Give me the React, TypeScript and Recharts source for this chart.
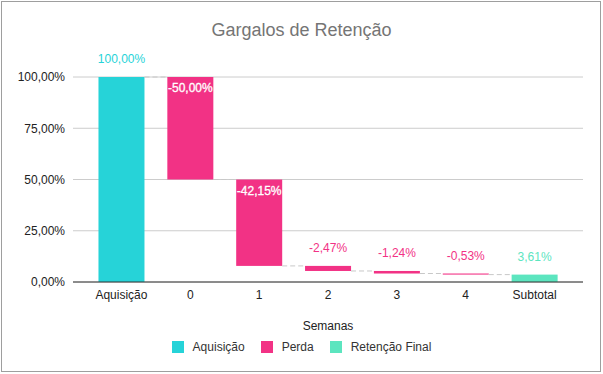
import React from 'react';
import { BarChart, Bar, XAxis, YAxis, CartesianGrid, Cell, LabelList } from 'recharts';

const CATEGORIES = ['Aquisição', '0', '1', '2', '3', '4', 'Subtotal'];
const VALUES = [100, -50.0, -42.15, -2.47, -1.24, -0.53, 3.61];
const KINDS = ['acq', 'loss', 'loss', 'loss', 'loss', 'loss', 'final'];
const Y_TICKS = [0, 25, 50, 75, 100];

const COLORS: Record<string, string> = {
  acq: '#26d3d8',
  loss: '#f23285',
  final: '#5ce5bf',
};

const LEGEND_ITEMS = [
  { key: 'acq', label: 'Aquisição' },
  { key: 'loss', label: 'Perda' },
  { key: 'final', label: 'Retenção Final' },
];

const fmt = (v: number) => v.toFixed(2).replace('.', ',') + '%';

// build [low, high] ranges for the waterfall
let running = 0;
const data = CATEGORIES.map((name, i) => {
  const v = VALUES[i];
  const kind = KINDS[i];
  let low: number;
  let high: number;
  if (kind === 'loss') {
    high = running;
    low = running + v;
    running = low;
  } else {
    low = 0;
    high = v;
    running = v;
  }
  return { name, range: [low, high], value: v, kind };
});

const FONT = '"Liberation Sans", Arial, sans-serif';

const WaterfallShape = (props: any) => {
  const { x, y, width, height, payload } = props;
  const color = COLORS[payload.kind];
  const gap = width / 2;
  let lineY: number | null = null;
  if (payload.kind === 'acq') lineY = y;
  if (payload.kind === 'loss') lineY = y + height;
  return (
    <g>
      <rect x={x} y={y} width={width} height={Math.max(height, 1)} fill={color} />
      {lineY !== null && (
        <line
          x1={x + width}
          x2={x + width + gap}
          y1={lineY}
          y2={lineY}
          stroke="#c8c8c8"
          strokeDasharray="5 3"
          strokeWidth={1}
        />
      )}
    </g>
  );
};

const ValueLabel = (props: any) => {
  const { x, y, width, height, index } = props;
  const d = data[index];
  const cx = x + width / 2;
  const inside = d.kind === 'loss' && height > 20;
  if (inside) {
    return (
      <text x={cx} y={y + 11} textAnchor="middle" dominantBaseline="central" fill="#ffffff" stroke="#ffffff" strokeWidth={0.3} fontSize={12} fontFamily={FONT}>
        {fmt(d.value)}
      </text>
    );
  }
  return (
    <text x={cx} y={y - 18} textAnchor="middle" dominantBaseline="central" fill={COLORS[d.kind]} fontSize={12} fontFamily={FONT}>
      {fmt(d.value)}
    </text>
  );
};

export default function App() {
  return (
    <div style={{ position: 'absolute', left: 0, top: 0, width: 603, height: 374, background: '#fff' }}>
      <div style={{ position: 'absolute', left: 1, top: 1, width: 600, height: 371, border: '1px solid #9e9e9e', boxSizing: 'border-box' }} />
      <div style={{ position: 'absolute', left: 0, top: 20, width: 603, textAlign: 'center', fontFamily: FONT, fontSize: 18, color: '#757575' }}>
        Gargalos de Retenção
      </div>
      <div style={{ position: 'absolute', left: 0, top: 0 }}>
        <BarChart width={603} height={374} data={data} margin={{ top: 77, right: 20, bottom: 44, left: 0 }} barCategoryGap="16.67%">
          <CartesianGrid vertical={false} stroke="#cccccc" />
          <XAxis
            dataKey="name"
            height={48}
            padding={{ left: 14, right: 14 }}
            tickLine={false}
            axisLine={{ stroke: '#333333' }}
            tick={{ fill: '#222222', fontSize: 12, fontFamily: FONT }}
            label={{ value: 'Semanas', position: 'insideBottom', offset: 0, fill: '#222222', fontSize: 12, fontFamily: FONT }}
          />
          <YAxis
            width={73}
            domain={[0, 100]}
            ticks={Y_TICKS}
            tickFormatter={fmt}
            axisLine={false}
            tickLine={false}
            tick={{ fill: '#222222', fontSize: 12, fontFamily: FONT }}
          />
          <Bar dataKey="range" isAnimationActive={false} shape={WaterfallShape}>
            {data.map((d, i) => (
              <Cell key={`c-${i}`} fill={COLORS[d.kind]} />
            ))}
            <LabelList dataKey="value" content={ValueLabel} />
          </Bar>
        </BarChart>
      </div>
      <div style={{ position: 'absolute', left: 0, top: 340, width: 603, display: 'flex', justifyContent: 'center', alignItems: 'center', fontFamily: FONT, fontSize: 12, color: '#333' }}>
        {LEGEND_ITEMS.map((it) => (
          <div key={it.key} style={{ display: 'flex', alignItems: 'center', margin: '0 8px' }}>
            <span style={{ width: 12, height: 12, background: COLORS[it.key], display: 'inline-block', marginRight: 9 }} />
            <span>{it.label}</span>
          </div>
        ))}
      </div>
    </div>
  );
}
